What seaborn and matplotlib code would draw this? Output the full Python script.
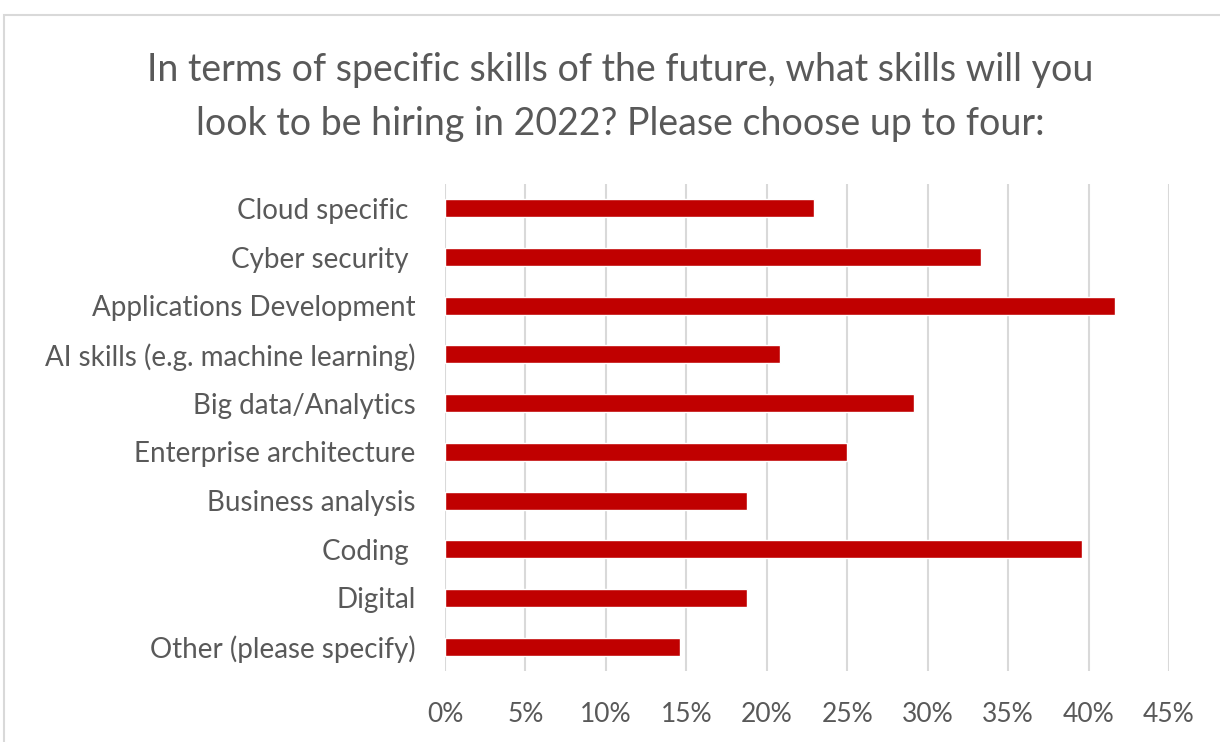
import matplotlib
matplotlib.use("Agg")
import matplotlib.pyplot as plt
import matplotlib.patches as mpatches
import seaborn as sns
import pandas as pd

skills = [
    "Cloud specific ",
    "Cyber security ",
    "Applications Development",
    "AI skills (e.g. machine learning)",
    "Big data/Analytics",
    "Enterprise architecture",
    "Business analysis",
    "Coding ",
    "Digital",
    "Other (please specify)",
]
share = [22.92, 33.33, 41.67, 20.83, 29.17, 25.00, 18.75, 39.58, 18.75, 14.58]
x_ticks = [0, 5, 10, 15, 20, 25, 30, 35, 40, 45]
x_tick_labels = [f"{t}%" for t in x_ticks]
title = ("In terms of specific skills of the future, what skills will you\n"
         "look to be hiring in 2022? Please choose up to four:")

df = pd.DataFrame({"skill": skills, "share": share})

sns.set_theme(style="white")
plt.rcParams["font.family"] = ["Lato", "DejaVu Sans"]

text_grey = "#595959"
fig = plt.figure(figsize=(12.2, 7.42), dpi=100)
ax = fig.add_axes([445 / 1220, 1 - 671 / 742, (1169 - 445) / 1220, (671 - 184) / 742])

sns.barplot(data=df, x="share", y="skill", orient="h", color="#C00000",
            saturation=1, width=0.37, ax=ax)

ax.set_xlim(0, 45)
ax.set_ylim(len(skills) - 0.5, -0.5)
ax.set_xticks(x_ticks)
ax.set_xticklabels(x_tick_labels)
ax.set_xlabel("")
ax.set_ylabel("")
ax.grid(axis="x", color="#D9D9D9", linewidth=1.5)
ax.set_axisbelow(True)
for s in ax.spines.values():
    s.set_visible(False)
ax.tick_params(axis="both", length=0, labelcolor=text_grey)
ax.tick_params(axis="y", pad=21, labelsize=20)
ax.tick_params(axis="x", pad=22, labelsize=19)

fig.text(620 / 1220, 1 - 97 / 742, title, ha="center", va="center",
         fontsize=27, color=text_grey, linespacing=1.6)

# chart frame
fig.patches.append(mpatches.Rectangle((4 / 1220, -0.05), 1.2, 1 - 15 / 742 + 0.05,
                                      transform=fig.transFigure, fill=False,
                                      edgecolor="#D9D9D9", linewidth=1.5))

fig.savefig("out.png", dpi=100, facecolor="white")
